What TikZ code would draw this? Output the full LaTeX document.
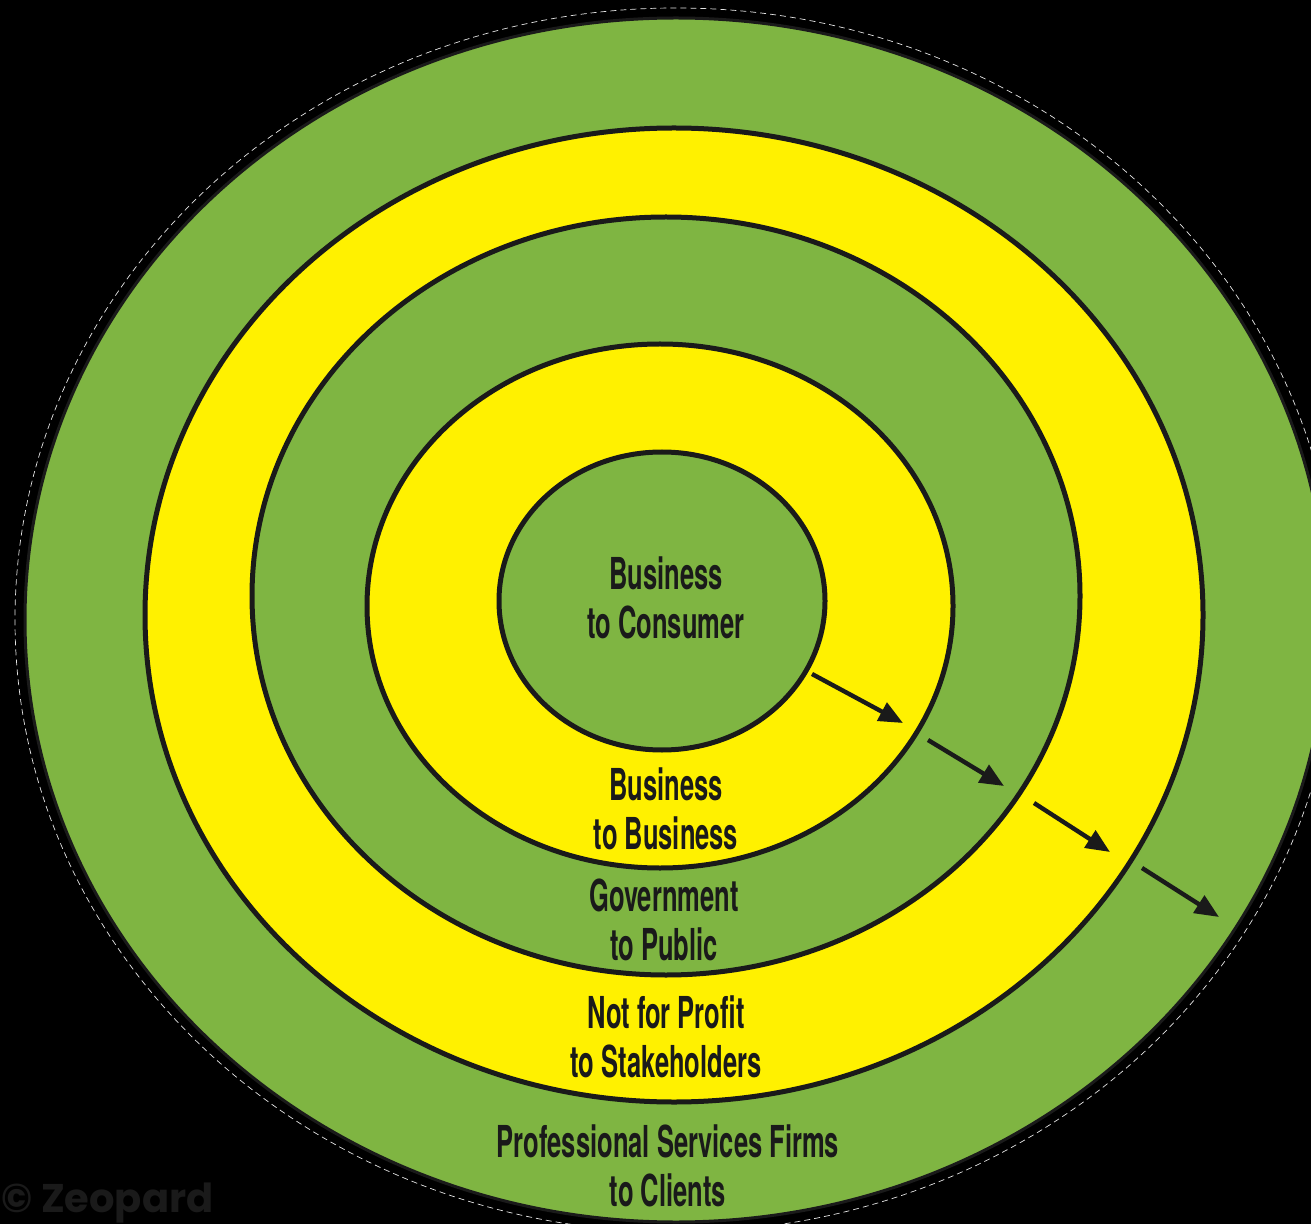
\documentclass[tikz,border=0pt]{standalone}
\usepackage{fontspec}
\setmainfont{TeX Gyre Heros}
\newfontfamily\condfont[FakeStretch=0.58]{TeX Gyre Heros}
\newfontfamily\wmfont{Poppins}
\usetikzlibrary{arrows.meta}
\definecolor{ringgreen}{HTML}{7FB542}
\definecolor{ringyellow}{HTML}{FFF100}
\definecolor{ink}{HTML}{1A1A1A}
\definecolor{wmgray}{HTML}{1A1A1A}
\begin{document}
\begin{tikzpicture}[x=0.5pt,y=-0.5pt,
  ring/.style={draw=ink, line width=2.5pt},
  greenring/.style={ring, fill=ringgreen},
  yellowring/.style={ring, fill=ringyellow},
  ringlabel/.style={font=\condfont\bfseries\fontsize{22}{24.5}\selectfont, text=ink, align=center, inner sep=0pt, anchor=base},
  flow/.style={draw=ink, line width=2.2pt, -{Triangle[length=12pt,width=10pt]}}
]
\useasboundingbox (0,0) rectangle (1311,1224);
\fill[black] (0,0) rectangle (1311,1224);
\clip (0,0) rectangle (1311,1224);
% rings, outermost first
\draw[gray!20, line width=0.35pt, dash pattern=on 3pt off 2pt] (676,620) ellipse [x radius=330.5pt, y radius=306pt];
\draw[greenring, line width=1.5pt] (676,620) ellipse [x radius=325.5pt, y radius=301pt];
\draw[yellowring] (674,615) ellipse [x radius=264.5pt, y radius=243.5pt];
\draw[greenring] (666,596) ellipse [x radius=207pt, y radius=189.5pt];
\draw[yellowring] (660,606) ellipse [x radius=146.5pt, y radius=131pt];
\draw[greenring] (662,601) ellipse [x radius=81.5pt, y radius=74.5pt];
% labels (anchor = baseline of the last line)
\node[ringlabel] (b2c) at (666,638) {Business\\to Consumer};
\node[ringlabel] (b2b) at (666,849) {Business\\to Business};
\node[ringlabel] (g2p) at (664,960) {Government\\to Public};
\node[ringlabel] (nfp) at (666,1077) {Not for Profit\\to Stakeholders};
\node[ringlabel] (psf) at (668,1206) {Professional Services Firms\\to Clients};
% arrows
\coordinate (a1s) at (812,674); \coordinate (a1e) at (903,723);
\coordinate (a2s) at (928,740); \coordinate (a2e) at (1004,786);
\coordinate (a3s) at (1034,803); \coordinate (a3e) at (1110,852);
\coordinate (a4s) at (1142,868); \coordinate (a4e) at (1219,917);
\draw[flow] (a1s) -- (a1e);
\draw[flow] (a2s) -- (a2e);
\draw[flow] (a3s) -- (a3e);
\draw[flow] (a4s) -- (a4e);
% watermark
\node[font=\wmfont\bfseries\fontsize{20}{20}\selectfont, text=wmgray, anchor=base west, inner sep=0pt] (wm) at (1,1212) {© Zeopard};
\end{tikzpicture}
\end{document}
